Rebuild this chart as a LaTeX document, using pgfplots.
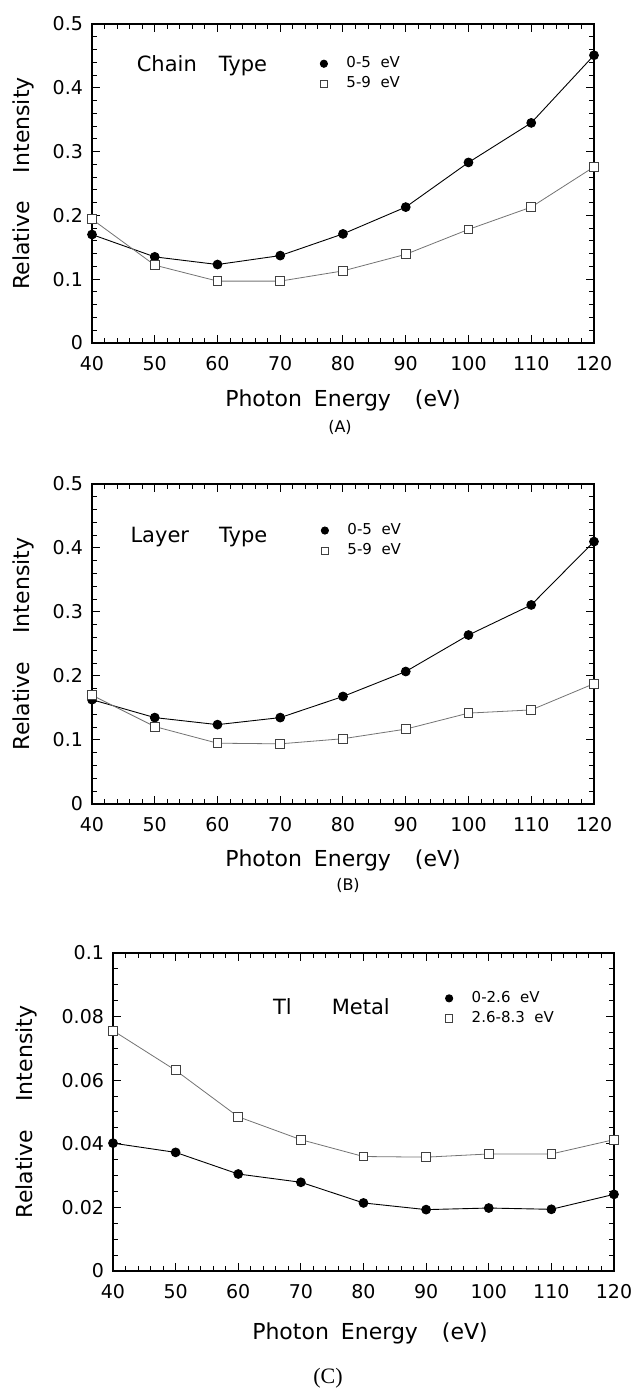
\documentclass[border=0pt]{standalone}
\usepackage{fontspec}
\setmainfont{DejaVu Sans}
\newfontfamily\seriffont{Liberation Serif}
\usepackage{pgfplots}
\pgfplotsset{compat=1.18}

\pgfplotsset{
  panel/.style={
    scale only axis, width=251pt, height=159.5pt, anchor=south west,
    xmin=40, xmax=120, xtick={40,50,...,120}, minor x tick num=4,
    ymin=0,
    tick align=inside, major tick length=4pt, minor tick length=2.5pt,
    every tick/.style={black, line width=0.5pt},
    axis line style={line width=0.7pt},
    tick label style={font=\fontsize{9.5}{11}\selectfont},
    xticklabel style={yshift=-3pt},
    yticklabel style={xshift=-1pt},
    /pgf/number format/assume math mode=true,
    yticklabel style={/pgf/number format/fixed, /pgf/number format/precision=2},
    label style={font=\fontsize{11}{13}\selectfont},
    ylabel={Relative\hspace{14pt}Intensity},
    xlabel={Photon\hspace{6pt}Energy\hspace{12pt}(eV)},
    ylabel style={anchor=center},
    xlabel style={anchor=center},
    legend style={draw=none, fill=none, anchor=north west,
      font=\fontsize{7.5}{9}\selectfont, inner sep=0pt,
      column sep=9pt, row sep=2pt, nodes={inner sep=0.5pt}},
    legend cell align=left,
    legend image code/.code={\draw[##1,only marks,mark size=1.8pt] plot coordinates {(0.1cm,0cm)};},
  },
  circ/.style={black, line width=0.45pt, mark=*, mark size=2.2pt,
    mark options={fill=black, solid}},
  sq/.style={black!55, line width=0.4pt, mark=square*, mark size=2.2pt,
    mark options={draw=black!75, fill=white, line width=0.45pt}},
}

\begin{document}
\begin{tikzpicture}
\path[use as bounding box] (0,0) rectangle (318pt,696.5pt);

% (A) chain type
\begin{axis}[panel, at={(46pt,525pt)}, ymax=0.5, ytick={0,0.1,...,0.5}, minor y tick num=4,
  ylabel style={at={(axis description cs:-0.1375,0.5)}},
  xlabel style={at={(axis description cs:0.5,-0.179)}},
  legend style={at={(0.454,0.902)}}]
\addplot[circ] coordinates {(40,0.170) (50,0.135) (60,0.123) (70,0.137) (80,0.171) (90,0.213) (100,0.283) (110,0.345) (120,0.451)};
\addlegendentry{0-5\ \ eV}
\addplot[sq] coordinates {(40,0.194) (50,0.122) (60,0.097) (70,0.097) (80,0.113) (90,0.139) (100,0.178) (110,0.213) (120,0.276)};
\addlegendentry{5-9\ \ eV}
\node[font=\fontsize{10.5}{12}\selectfont] at (rel axis cs:0.219,0.868) {Chain\hspace{11pt}Type};
\end{axis}
\node[font=\fontsize{8}{10}\selectfont] at (170pt,483pt) {(A)};

% (B) layer type
\begin{axis}[panel, at={(46pt,294.5pt)}, height=160pt, ymax=0.5, ytick={0,0.1,...,0.5}, minor y tick num=4,
  ylabel style={at={(axis description cs:-0.1375,0.5)}},
  xlabel style={at={(axis description cs:0.5,-0.175)}},
  legend style={at={(0.456,0.881)}}]
\addplot[circ] coordinates {(40,0.163) (50,0.135) (60,0.124) (70,0.135) (80,0.168) (90,0.207) (100,0.264) (110,0.311) (120,0.410)};
\addlegendentry{0-5\ \ eV}
\addplot[sq] coordinates {(40,0.170) (50,0.121) (60,0.095) (70,0.094) (80,0.102) (90,0.117) (100,0.142) (110,0.147) (120,0.188)};
\addlegendentry{5-9\ \ eV}
\node[font=\fontsize{10.5}{12}\selectfont] at (rel axis cs:0.213,0.834) {Layer\hspace{15pt}Type};
\end{axis}
\node[font=\fontsize{8}{10}\selectfont] at (174pt,254pt) {(B)};

% (C) Tl metal
\begin{axis}[panel, at={(56.5pt,61pt)}, width=250.5pt, height=159pt, ymax=0.1, ytick={0,0.02,...,0.1}, minor y tick num=3,
  ylabel style={at={(axis description cs:-0.172,0.5)}},
  xlabel style={at={(axis description cs:0.513,-0.195)}},
  legend style={at={(0.663,0.884)}}]
\addplot[circ] coordinates {(40,0.0402) (50,0.0373) (60,0.0305) (70,0.0279) (80,0.0214) (90,0.0193) (100,0.0198) (110,0.0194) (120,0.0241)};
\addlegendentry{0-2.6\ \ eV}
\addplot[sq] coordinates {(40,0.0756) (50,0.0631) (60,0.0485) (70,0.0413) (80,0.0360) (90,0.0358) (100,0.0368) (110,0.0368) (120,0.0413)};
\addlegendentry{2.6-8.3\ \ eV}
\node[font=\fontsize{10.5}{12}\selectfont] at (rel axis cs:0.436,0.83) {Tl\hspace{20pt}Metal};
\end{axis}
\node[font=\seriffont\fontsize{11}{13}\selectfont] at (164pt,7.5pt) {(C)};
\end{tikzpicture}
\end{document}
